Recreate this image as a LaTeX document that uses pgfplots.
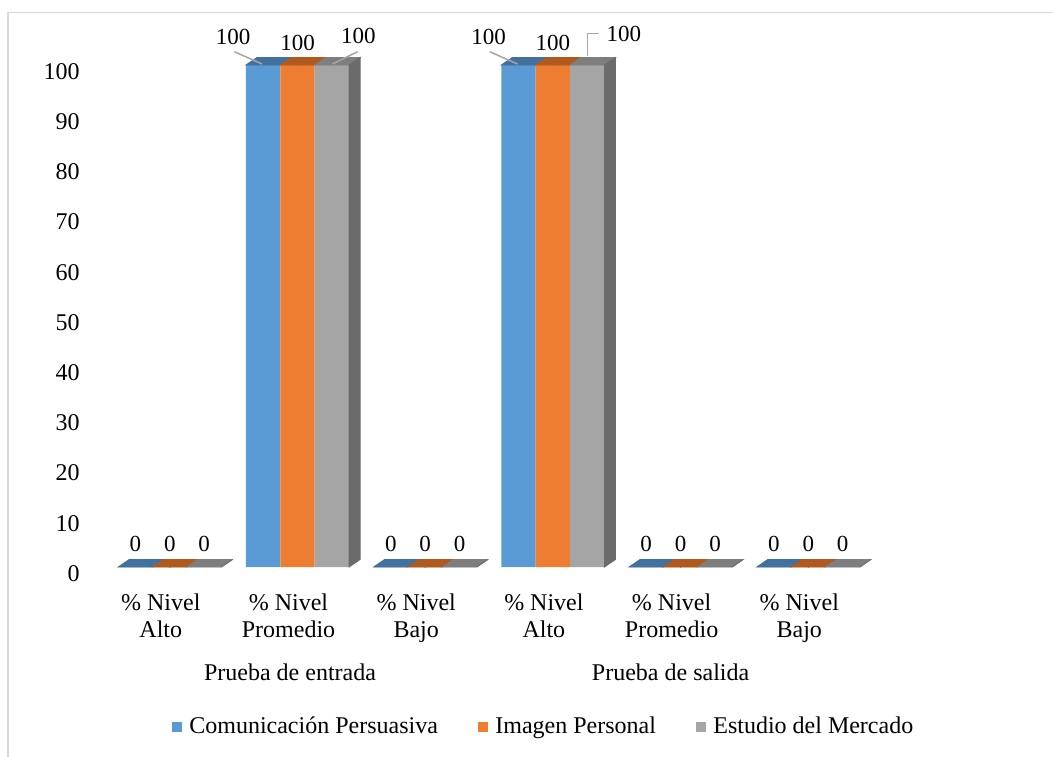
\documentclass[border=0pt]{standalone}
\usepackage{fontspec}
\setmainfont{Liberation Serif}
\usepackage{pgfplots}
\usepackage{pgfplotstable}
\pgfplotsset{compat=1.18}

\definecolor{cblue}{HTML}{5B9BD5}
\definecolor{corange}{HTML}{ED7D31}
\definecolor{cgray}{HTML}{A5A5A5}
\definecolor{tblue}{HTML}{41719C}
\definecolor{torange}{HTML}{B05A20}
\definecolor{tgray}{HTML}{7E7E7E}
\definecolor{sgray}{HTML}{6B6B6B}
\definecolor{leader}{HTML}{A6A6A6}
\definecolor{framec}{HTML}{D9D9D9}

% cat 0-2: Prueba de entrada, cat 3-5: Prueba de salida
\pgfplotstableread{
cat com img est
0   0   0   0
1   100 100 100
2   0   0   0
3   100 100 100
4   0   0   0
5   0   0   0
}\datos

\newcommand\txt{\fontsize{12}{13.5}\selectfont}
\newcommand\lbl{\fontsize{11.5}{13}\selectfont}
\newcommand\val[1]{\pgfmathprintnumber[assume math mode=true,fixed,precision=0]{#1}}

\tikzset{vlabel/.style={font=\lbl, inner sep=0pt, text=black}}

% bar width 17.2pt, depth of the 3D faces 5.5pt x 3.75pt
\pgfplotsset{
  topface/.style={%
    forget plot, scatter, only marks, mark=*, mark size=0.01pt,
    mark options={#1}, point meta=y,
    scatter/@post marker code/.code={},
  },
}

\begin{document}
\begin{tikzpicture}
\useasboundingbox (-84.9pt,-94.5pt) rectangle (441.6pt,283.5pt);
\begin{axis}[
  anchor=origin, at={(0pt,0pt)},
  x=63.85pt, y=2.51pt,
  xmin=-0.5, xmax=5.5, ymin=0, ymax=100,
  clip=false,
  axis line style={draw=none},
  major tick length=0pt,
  tick style={draw=none},
  ytick={0,10,...,100},
  xtick={0,...,5},
  xticklabels={{\% Nivel\\Alto},{\% Nivel\\Promedio},{\% Nivel\\Bajo},
               {\% Nivel\\Alto},{\% Nivel\\Promedio},{\% Nivel\\Bajo}},
  /pgf/number format/assume math mode=true,
  yticklabel style={font=\txt, anchor=east, inner sep=0pt, xshift=-13pt, yshift=-3.25pt},
  xticklabel style={font=\txt, align=center, anchor=north, inner sep=0pt, yshift=-13pt, xshift=-4.5pt},
  legend columns=3,
  legend style={draw=none, fill=none, at={(0.5699,-0.3187)}, anchor=center,
    font=\txt, inner sep=0pt, nodes={inner sep=0pt},
    /tikz/every odd column/.append style={column sep=3.5pt},
    /tikz/every even column/.append style={column sep=20pt}},
  legend image code/.code={\fill[#1] (0pt,-2.6pt) rectangle (5.2pt,2.6pt);},
]
% front faces
\addplot[ybar, bar width=17.2pt, bar shift=-17.2pt, fill=cblue, draw=none]
  table[x=cat, y=com] {\datos};
\addlegendentry{Comunicación Persuasiva}
\addplot[ybar, bar width=17.2pt, bar shift=0pt, fill=corange, draw=none]
  table[x=cat, y=img] {\datos};
\addlegendentry{Imagen Personal}
\addplot[ybar, bar width=17.2pt, bar shift=17.2pt, fill=cgray, draw=none]
  table[x=cat, y=est] {\datos};
\addlegendentry{Estudio del Mercado}

% top faces, side face and value labels
\addplot[topface=tblue,
  visualization depends on={\thisrow{com} \as \ry},
  scatter/@pre marker code/.code={%
    \fill[tblue] (-25.8pt,0pt) -- (-8.6pt,0pt) -- (-3.1pt,3.75pt) -- (-20.3pt,3.75pt) -- cycle;
    \ifdim\ry pt>50pt
      \draw[leader, line width=0.75pt] (-31.6pt,6.65pt) -- (-17.7pt,0.5pt);
      \node[vlabel] at (-32.2pt,14.1pt) {\val{\ry}};
    \else
      \node[vlabel, anchor=base] at (-17.2pt,7.7pt) {\val{\ry}};
    \fi
  },
] table[x=cat, y=com] {\datos};

\addplot[topface=torange,
  visualization depends on={\thisrow{img} \as \ry},
  scatter/@pre marker code/.code={%
    \fill[torange] (-8.6pt,0pt) -- (8.6pt,0pt) -- (14.1pt,3.75pt) -- (-3.1pt,3.75pt) -- cycle;
    \ifdim\ry pt>50pt
      \node[vlabel] at (0pt,11.25pt) {\val{\ry}};
    \else
      \node[vlabel, anchor=base] at (0pt,7.7pt) {\val{\ry}};
    \fi
  },
] table[x=cat, y=img] {\datos};

\addplot[topface=tgray,
  visualization depends on={\thisrow{est} \as \ry},
  visualization depends on={\thisrow{cat} \as \rc},
  scatter/@pre marker code/.code={%
    \fill[tgray] (8.6pt,0pt) -- (25.8pt,0pt) -- (31.3pt,3.75pt) -- (14.1pt,3.75pt) -- cycle;
    \fill[sgray] (25.8pt,0pt) -- (31.3pt,3.75pt) -- (31.3pt,{3.75pt-\ry*2.51pt}) -- (25.8pt,{-\ry*2.51pt}) -- cycle;
    \ifdim\ry pt>50pt
      \ifdim\rc pt=3pt
        \draw[leader, line width=0.75pt] (17.2pt,4.5pt) -- (17.2pt,15.85pt) -- (23.2pt,15.85pt);
        \node[vlabel] at (35.45pt,15.75pt) {\val{\ry}};
      \else
        \draw[leader, line width=0.75pt] (17.55pt,0.5pt) -- (30.05pt,6.65pt);
        \node[vlabel] at (30.45pt,14.75pt) {\val{\ry}};
      \fi
    \else
      \node[vlabel, anchor=base] at (17.2pt,7.7pt) {\val{\ry}};
    \fi
  },
] table[x=cat, y=est] {\datos};

% group labels below the categories
\node[font=\txt] at (axis cs:1,0) [xshift=-3.75pt, yshift=-52.5pt] {Prueba de entrada};
\node[font=\txt] at (axis cs:4,0) [xshift=-5pt, yshift=-52.5pt] {Prueba de salida};
\end{axis}
\draw[framec, line width=0.75pt] (-80.9pt,-99pt) rectangle (445.1pt,277.25pt);
\end{tikzpicture}
\end{document}
